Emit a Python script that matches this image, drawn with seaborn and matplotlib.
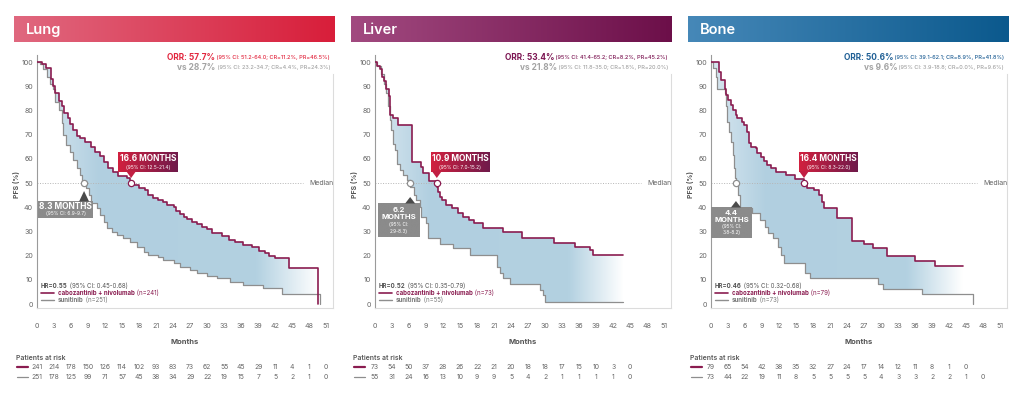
import matplotlib
matplotlib.use("Agg")
import matplotlib.pyplot as plt
import seaborn as sns
import numpy as np
from matplotlib.colors import LinearSegmentedColormap
from matplotlib.patches import PathPatch, Polygon
from matplotlib.transforms import blended_transform_factory

W, H = 1024, 399

# ---- data (month, PFS %) ----
month_ticks = list(range(0, 52, 3))
pfs_ticks = list(range(0, 101, 10))

lung_cabo = [(0, 100), (0.8, 99), (1.6, 97.5), (2.4, 93), (2.8, 90), (3.2, 87), (3.8, 84), (4.4, 82),
             (4.8, 79), (5.4, 77), (5.8, 74.5), (6.3, 72), (7.0, 69.5), (7.6, 68.5), (8.5, 67), (9.6, 65),
             (10.2, 63), (11.1, 61), (11.8, 58.5), (12.6, 56), (13.4, 54.5), (14.2, 53), (15.8, 52),
             (16.4, 50.5), (16.6, 49.3), (17.9, 48), (19.1, 47), (19.5, 45), (20.5, 44), (21.4, 43),
             (22.3, 42), (23.0, 41), (24.1, 40), (24.6, 38.5), (25.2, 37), (25.9, 36), (26.5, 35),
             (27.3, 34), (28.2, 33), (29.1, 32), (29.9, 31), (30.8, 29.5), (32.6, 28), (33.8, 26.5),
             (34.9, 25.5), (36.4, 24.5), (37.9, 23.5), (39.1, 22), (40.2, 21), (41.0, 20), (42.0, 19),
             (44.4, 14.7), (49.6, 0)]
lung_suni = [(0, 100), (0.5, 99), (1.1, 97), (1.7, 94), (2.3, 91), (2.9, 89), (3.2, 83.6), (3.8, 80),
             (4.4, 75), (4.6, 70), (5.2, 65.7), (5.8, 63), (6.4, 59.5), (7.0, 56), (7.6, 53.3), (7.9, 51),
             (8.3, 49.5), (8.6, 47.8), (9.1, 45), (9.6, 41.6), (10.5, 39.5), (11.1, 36.8), (11.8, 34),
             (12.4, 31.3), (13.2, 29.9), (14.1, 28.5), (15.2, 27.1), (16.4, 25.8), (17.6, 23.7),
             (18.8, 21.6), (19.6, 20.2), (21.4, 19.6), (22.3, 18.2), (24.1, 16.8), (25.2, 15.4), (27.0, 14),
             (28.2, 12.7), (29.9, 11.7), (31.7, 10.6), (34.1, 9.2), (36.4, 7.9), (39.9, 6.5), (43.2, 4.2),
             (49.9, 0)]

liver_cabo = [(0, 100), (0.4, 98.5), (0.8, 97), (1.2, 94), (1.6, 92), (2.0, 89), (2.4, 86), (2.6, 78),
              (3.2, 76.7), (4.1, 74), (6.6, 58.8), (8.2, 56.7), (8.5, 54), (9.6, 50.7), (10.9, 48.5),
              (11.1, 46.4), (11.4, 44.4), (11.8, 43), (12.6, 40.9), (13.5, 39.5), (14.7, 37.7), (15.6, 36),
              (16.5, 34.7), (17.4, 33.3), (19.1, 31.3), (22.6, 29.9), (25.9, 27.1), (31.5, 25.1),
              (35.3, 23.7), (37.9, 22.3), (38.5, 20.2), (43.8, 20.2)]
liver_suni = [(0, 100), (0.4, 98.5), (1.1, 95), (1.6, 91), (2.0, 87), (2.3, 82), (2.6, 76), (2.9, 72),
              (3.2, 66), (3.5, 63.6), (3.8, 58), (4.4, 55.4), (5.0, 53.3), (5.6, 51.2), (6.2, 48.5),
              (6.8, 45), (7.2, 43), (7.9, 40.2), (8.2, 36), (9.0, 33.3), (9.4, 27.1), (11.5, 24.8),
              (13.8, 23), (16.8, 20.2), (21.5, 15.4), (22.1, 12.7), (22.6, 10.6), (23.8, 8.3), (29.1, 5.8),
              (29.7, 3.7), (30.0, 1.0), (43.8, 1.0)]

bone_cabo = [(0, 100), (1.4, 96), (1.8, 92.6), (2.4, 89), (2.6, 86.4), (3.0, 84.3), (3.5, 82.2), (3.9, 80.2),
             (4.4, 78.1), (4.6, 76.7), (5.5, 75.3), (5.8, 74), (6.4, 71.2), (6.7, 66.4), (7.0, 65),
             (7.9, 64.3), (8.2, 62.3), (8.8, 60.9), (9.4, 59.1), (9.9, 57.4), (10.5, 56), (11.4, 54.7),
             (13.2, 53.3), (14.9, 51.7), (16.4, 49.2), (17.0, 47.8), (18.2, 47.1), (19.1, 45), (19.5, 42.3),
             (19.9, 39.5), (22.2, 35.4), (24.8, 26.2), (26.9, 24.8), (28.6, 23), (31.0, 19.8), (36.0, 17.9),
             (39.5, 15.8), (44.4, 15.8)]
bone_suni = [(0, 100), (0.4, 97.4), (0.8, 94), (1.1, 89), (2.4, 87), (2.6, 82), (2.9, 75.3), (3.2, 71.2),
             (3.5, 67), (3.8, 61.6), (4.1, 56), (4.2, 52), (4.4, 49.2), (4.7, 45), (5.1, 39.5), (7.2, 37.5),
             (8.6, 34.7), (9.5, 32), (10.1, 29.2), (11.0, 27.1), (11.9, 23.7), (12.3, 20.2), (12.9, 16.8),
             (16.6, 12.7), (17.5, 10.6), (29.5, 8.3), (30.4, 6.2), (37.2, 4.1), (46.2, 0)]

lung_risk_cabo = [241, 214, 178, 150, 126, 114, 102, 93, 83, 73, 62, 55, 45, 29, 11, 4, 1, 0]
lung_risk_suni = [251, 178, 125, 99, 71, 57, 45, 38, 34, 29, 22, 19, 15, 7, 5, 2, 1, 0]
liver_risk_cabo = [73, 54, 50, 37, 28, 26, 22, 21, 20, 18, 18, 17, 15, 10, 3, 0]
liver_risk_suni = [55, 31, 24, 16, 13, 10, 9, 9, 5, 4, 2, 1, 1, 1, 1, 0]
bone_risk_cabo = [79, 65, 54, 42, 38, 35, 32, 27, 24, 17, 14, 12, 11, 8, 1, 0]
bone_risk_suni = [73, 44, 22, 19, 11, 8, 5, 5, 5, 5, 4, 3, 3, 2, 2, 1, 0]

medians_cabo = [16.6, 10.9, 16.4]
medians_suni = [8.3, 6.2, 4.4]
median_ci_cabo = ["(95% CI: 12.5-21.4)", "(95% CI: 7.0-15.2)", "(95% CI: 8.3-22.0)"]
median_ci_suni = ["(95% CI: 6.9-9.7)", "(95% CI:\n2.9-8.3)", "(95% CI:\n3.8-8.2)"]
orr_cabo = [("ORR: 57.7%", " (95% CI: 51.2-64.0; CR=11.2%, PR=46.5%)"),
            ("ORR: 53.4%", " (95% CI: 41.4-65.2; CR=8.2%, PR=45.2%)"),
            ("ORR: 50.6%", " (95% CI: 39.1-62.1; CR=8.9%, PR=41.8%)")]
orr_suni = [("vs 28.7%", " (95% CI: 23.2-34.7; CR=4.4%, PR=24.3%)"),
            ("vs 21.8%", " (95% CI: 11.8-35.0; CR=1.8%, PR=20.0%)"),
            ("vs 9.6%", " (95% CI: 3.9-18.8; CR=0.0%, PR=9.6%)")]
hr_text = [("HR=0.55", " (95% CI: 0.45-0.68)"), ("HR=0.52", " (95% CI: 0.35-0.79)"),
           ("HR=0.46", " (95% CI: 0.32-0.68)")]
n_cabo = [241, 73, 79]
n_suni = [251, 55, 73]
site_names = ["Lung", "Liver", "Bone"]

# ---- styling ----
CABO = "#8a1c50"
SUNI = "#8e8e8e"
TXT = "#666666"
head_colors = [("#e0687f", "#d81e3a"), ("#a24a80", "#6c0f49"), ("#4688b8", "#0b598d")]
orr_colors = ["#e2263e", "#7c1552", "#1f5f95"]
ax_left = [37, 375, 711]
head_left = [14, 351, 688]
# offsets (px) of the annotation boxes relative to the median marker
cabo_box = [(-13, 47), (-6, 53), (-5, 54)]
suni_box = [(-46, 9, 18, 35, 8), (-32, 10, 20, 54, 14), (-25, 16, 24, 55, 18)]

sns.set_theme(style="white")
plt.rcParams["font.family"] = ["Inter", "DejaVu Sans"]

fig = plt.figure(figsize=(W / 100, H / 100), dpi=100)
renderer = fig.canvas.get_renderer()


def fx(x):
    return x / W


def fy(y):
    return 1 - y / H


def rich(x, y, parts, ha="left"):
    # draw text pieces next to each other, x/y in pixels from top-left
    cur = x
    seq = parts if ha == "left" else parts[::-1]
    for s, props in seq:
        t = fig.text(fx(cur), fy(y), s, ha=ha, va="center", **props)
        w = t.get_window_extent(renderer).width
        cur = cur + w if ha == "left" else cur - w


def gradient_axes(x0, y0, x1, y1, c0, c1):
    bax = fig.add_axes([fx(x0), fy(y1), fx(x1 - x0), (y1 - y0) / H])
    cm = LinearSegmentedColormap.from_list("g", [c0, c1])
    bax.imshow(np.linspace(0, 1, 256).reshape(1, -1), cmap=cm, aspect="auto", extent=[0, 1, 0, 1])
    bax.set_axis_off()
    return bax


def tri(pts, color):
    fig.add_artist(Polygon([(fx(a), fy(b)) for a, b in pts], closed=True,
                           transform=fig.transFigure, color=color, lw=0))


def step_val(curve, t):
    v = curve[0][1]
    for tt, s in curve:
        if tt <= t:
            v = s
    return v


fill_cmap = LinearSegmentedColormap.from_list(
    "fill", [(0, "#d8e7f0"), (0.22, "#b1cfe0"), (0.78, "#b3d1e1"), (1.0, "#ffffff")])

curves = [(lung_cabo, lung_suni), (liver_cabo, liver_suni), (bone_cabo, bone_suni)]
risks = [(lung_risk_cabo, lung_risk_suni), (liver_risk_cabo, liver_risk_suni),
         (bone_risk_cabo, bone_risk_suni)]

for i, name in enumerate(site_names):
    L = ax_left[i]
    ax = fig.add_axes([fx(L), (H - 308) / H, 296 / W, (308 - 55) / H])
    cabo, suni = curves[i]

    # shaded area between the two curves
    t_end = min(cabo[-1][0], suni[-1][0])
    grid = sorted(set([t for t, _ in cabo] + [t for t, _ in suni]))
    grid = [t for t in grid if t < t_end] + [t_end]
    up = [step_val(cabo, t) for t in grid]
    lo = [step_val(suni, t) for t in grid]
    poly = ax.fill_between(grid, lo, up, step="post", facecolor="none", edgecolor="none")
    path = poly.get_paths()[0]
    poly.remove()
    clip = PathPatch(path, transform=ax.transData, facecolor="none", edgecolor="none")
    ax.add_patch(clip)
    im = ax.imshow(np.linspace(0, 1, 256).reshape(1, -1), cmap=fill_cmap, aspect="auto",
                   extent=[0, t_end, -2, 101], origin="lower", zorder=1, interpolation="bilinear")
    im.set_clip_path(clip)

    # KM curves
    sns.lineplot(x=[t for t, _ in suni], y=[s for _, s in suni], drawstyle="steps-post", color=SUNI,
                 lw=0.9, ax=ax, estimator=None, sort=False, zorder=3)
    sns.lineplot(x=[t for t, _ in cabo], y=[s for _, s in cabo], drawstyle="steps-post", color=CABO,
                 lw=1.2, ax=ax, estimator=None, sort=False, zorder=4)

    # median line + markers
    ax.axhline(50, xmin=0, xmax=0.9, color="#b5b5b5", lw=0.7, ls=(0, (1, 1.6)), zorder=2)
    ax.text(1.0, 50, "Median", transform=ax.get_yaxis_transform(), ha="right", va="center",
            fontsize=5, color=TXT)
    ax.plot([medians_suni[i]], [50], "o", mfc="white", mec=SUNI, ms=4.5, mew=0.9, zorder=6)
    ax.plot([medians_cabo[i]], [50], "o", mfc="white", mec=CABO, ms=4.5, mew=0.9, zorder=6)

    ax.set_xlim(0, 52.2)
    ax.set_ylim(-1.65, 102.9)
    ax.set_xticks(month_ticks)
    ax.set_yticks(pfs_ticks)
    ax.tick_params(axis="both", length=0, labelsize=5.1, colors=TXT)
    ax.tick_params(axis="x", pad=11)
    ax.tick_params(axis="y", pad=3)
    ax.set_xlabel("")
    ax.set_ylabel("")
    ax.spines["top"].set_visible(False)
    ax.spines["left"].set_color("#9a9a9a")
    ax.spines["left"].set_linewidth(0.8)
    ax.spines["bottom"].set_color("#dcdcdc")
    ax.spines["bottom"].set_linewidth(0.8)
    ax.spines["right"].set_color("#dcdcdc")
    ax.spines["right"].set_linewidth(0.8)
    ax.spines["right"].set_bounds(-1.65, 95)

    fig.text(fx(L + 148), fy(342), "Months", ha="center", va="center", fontsize=5.5,
             fontweight="bold", color="#555555")
    fig.text(fx(L - 21), fy(185), "PFS (%)", ha="center", va="center", rotation=90,
             fontsize=5, fontweight="bold", color="#555555")

    # header bar
    hx = head_left[i]
    hb = gradient_axes(hx, 16, hx + 321, 42, *head_colors[i])
    hb.text(12 / 321, 0.48, name, transform=hb.transAxes, ha="left", va="center",
            fontsize=10.5, fontweight="semibold", color="white")

    # ORR text
    R = L + 293
    big, small = orr_cabo[i]
    rich(R, 57, [(big, dict(fontsize=6, fontweight="bold", color=orr_colors[i])),
                 (small, dict(fontsize=4, fontweight="medium", color=orr_colors[i]))], ha="right")
    big, small = orr_suni[i]
    rich(R, 68, [(big, dict(fontsize=6, fontweight="bold", color="#a3a3a3")),
                 (small, dict(fontsize=4, fontweight="medium", color="#a3a3a3"))], ha="right")

    # HR / legend
    hb_, hs_ = hr_text[i]
    rich(L + 4, 286, [(hb_, dict(fontsize=4.4, fontweight="bold", color="#555555")),
                      (hs_, dict(fontsize=4.4, color="#555555"))])
    fig.add_artist(plt.Line2D([fx(L + 4), fx(L + 17)], [fy(293), fy(293)], color=CABO, lw=1.2,
                              transform=fig.transFigure))
    rich(L + 21, 293, [("cabozantinib + nivolumab", dict(fontsize=4.4, fontweight="bold", color=CABO)),
                       (f" (n={n_cabo[i]})", dict(fontsize=4.4, color=CABO))])
    fig.add_artist(plt.Line2D([fx(L + 4), fx(L + 17)], [fy(300), fy(300)], color=SUNI, lw=1.0,
                              transform=fig.transFigure))
    rich(L + 21, 300, [("sunitinib", dict(fontsize=4.4, fontweight="bold", color="#777777")),
                       (f" (n={n_suni[i]})", dict(fontsize=4.4, color="#777777"))])

    # median annotation boxes
    fig.canvas.draw()
    mx, my = ax.transData.transform((medians_cabo[i], 50))
    my = H - my
    d0, d1 = cabo_box[i]
    tri([(mx - 5, my - 12), (mx + 5, my - 12), (mx, my - 5)], "#c21f43")
    bb = gradient_axes(mx + d0, my - 31, mx + d1, my - 11, "#d2213f", "#6f1a4b")
    bb.text(0.5, 0.66, f"{medians_cabo[i]} MONTHS", transform=bb.transAxes, ha="center",
            va="center", fontsize=6, fontweight="bold", color="white")
    bb.text(0.5, 0.25, median_ci_cabo[i], transform=bb.transAxes, ha="center", va="center",
            fontsize=3.5, color="white")

    sx, sy = ax.transData.transform((medians_suni[i], 50))
    sy = H - sy
    a0, a1, b0, b1, tp = suni_box[i]
    tri([(sx - 5, sy + b0 + 0.5), (sx + 5, sy + b0 + 0.5), (sx, sy + tp)], "#4a4a4a")
    gb = gradient_axes(sx + a0, sy + b0, sx + a1, sy + b1, "#8b8b8b", "#8b8b8b")
    if "\n" in median_ci_suni[i]:
        ci1, ci2 = median_ci_suni[i].split("\n")
        for yy, s, fs, fw in [(0.8, str(medians_suni[i]), 5.5, "bold"), (0.59, "MONTHS", 5.5, "bold"),
                              (0.36, ci1, 3.4, "normal"), (0.17, ci2, 3.4, "normal")]:
            gb.text(0.5, yy, s, transform=gb.transAxes, ha="center", va="center", fontsize=fs,
                    fontweight=fw, color="white")
    else:
        gb.text(0.5, 0.66, f"{medians_suni[i]} MONTHS", transform=gb.transAxes, ha="center",
                va="center", fontsize=6, fontweight="bold", color="white")
        gb.text(0.5, 0.25, median_ci_suni[i], transform=gb.transAxes, ha="center", va="center",
                fontsize=3.5, color="white")

    # patients at risk table
    fig.text(fx(hx + 2), fy(358), "Patients at risk", ha="left", va="center", fontsize=4.9,
             fontweight="semibold", color="#555555")
    tr = blended_transform_factory(ax.transData, fig.transFigure)
    rc, rs = risks[i]
    fig.add_artist(plt.Line2D([fx(hx + 3), fx(hx + 14)], [fy(367), fy(367)], color=CABO, lw=1.6,
                              transform=fig.transFigure))
    fig.add_artist(plt.Line2D([fx(hx + 3), fx(hx + 14)], [fy(377), fy(377)], color=SUNI, lw=0.9,
                              transform=fig.transFigure))
    for k, v in enumerate(rc):
        fig.text(month_ticks[k], fy(367), str(v), transform=tr, ha="center", va="center",
                 fontsize=4.9, color=TXT)
    for k, v in enumerate(rs):
        fig.text(month_ticks[k], fy(377), str(v), transform=tr, ha="center", va="center",
                 fontsize=4.9, color=TXT)

fig.savefig("out.png", dpi=100, facecolor="white")
